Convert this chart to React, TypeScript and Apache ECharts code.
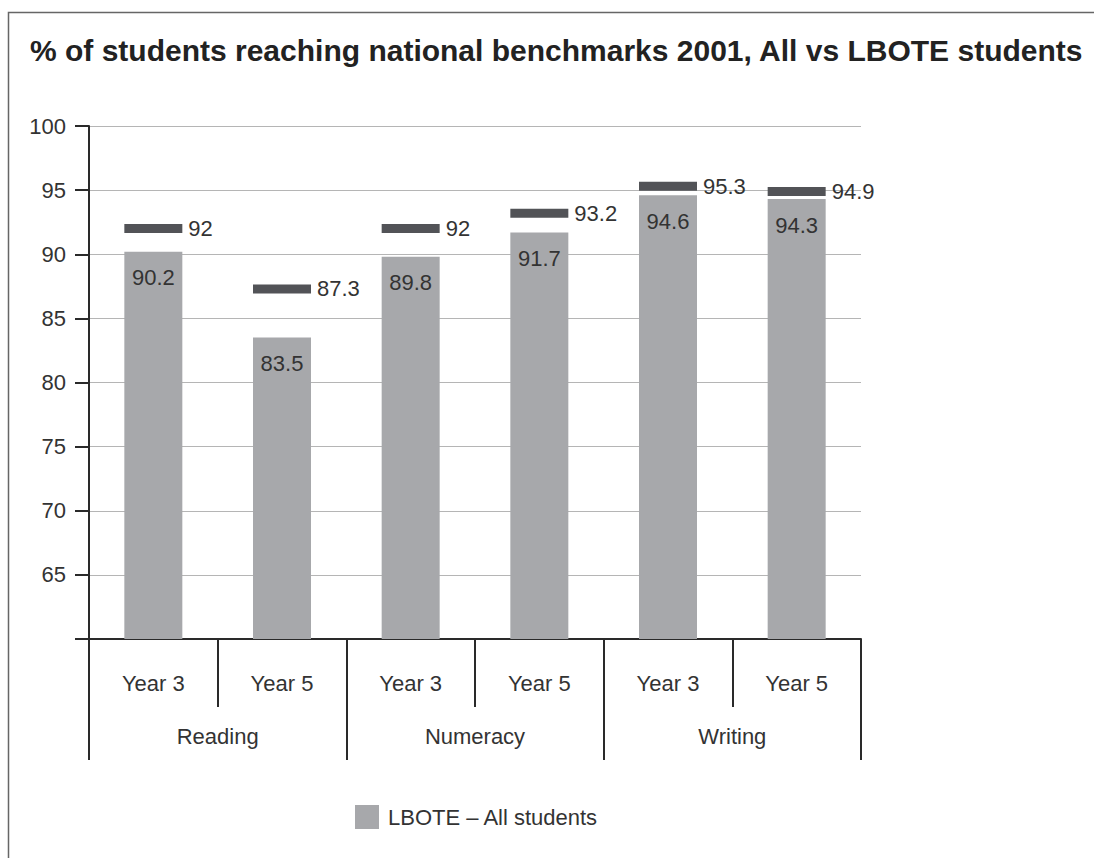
import React, { useEffect, useRef } from "react";
import * as echarts from "echarts";

const titleText = "% of students reaching national benchmarks 2001, All vs LBOTE students";
const years = ["Year 3", "Year 5", "Year 3", "Year 5", "Year 3", "Year 5"];
const subjects = ["Reading", "Numeracy", "Writing"];
const lboteValues = [90.2, 83.5, 89.8, 91.7, 94.6, 94.3];
const allValues = [92, 87.3, 92, 93.2, 95.3, 94.9];
const legendName = "LBOTE – All students";

const FONT = "'Liberation Sans', Arial, Helvetica, sans-serif";
const FS = 22;

export default function App() {
  const ref = useRef<HTMLDivElement>(null);
  useEffect(() => {
    if (!ref.current) return;
    const chart = echarts.init(ref.current, undefined, { renderer: "svg" });
    chart.setOption({
      animation: false,
      backgroundColor: "#ffffff",
      textStyle: { fontFamily: FONT },
      title: {
        text: titleText,
        left: 25,
        top: 30,
        textStyle: { fontFamily: FONT, fontSize: 30, fontWeight: "bold", color: "#222222" },
      },
      graphic: [
        {
          type: "rect",
          shape: { x: 8.5, y: 12.5, width: 1200, height: 1000 },
          style: { fill: "none", stroke: "#666666", lineWidth: 1.5 },
          silent: true,
        },
      ],
      legend: {
        data: [legendName],
        left: 350,
        top: 800,
        itemWidth: 24,
        itemHeight: 24,
        itemGap: 10,
        icon: "rect",
        textStyle: { fontFamily: FONT, fontSize: FS, color: "#333333", padding: [0, 0, 0, 4] },
      },
      grid: { left: 89, right: 233, top: 126, bottom: 219, containLabel: false },
      xAxis: [
        {
          type: "category",
          data: years,
          position: "bottom",
          axisLine: { show: true, lineStyle: { color: "#2a2a2a", width: 2 } },
          axisTick: { show: true, interval: 0, length: 68, lineStyle: { color: "#2a2a2a", width: 2 } },
          axisLabel: { interval: 0, margin: 33, fontSize: FS, color: "#333333", fontFamily: FONT },
        },
        {
          type: "category",
          data: subjects,
          position: "bottom",
          axisLine: { show: false },
          axisTick: { show: true, interval: 0, length: 121, lineStyle: { color: "#2a2a2a", width: 2 } },
          axisLabel: { interval: 0, margin: 86, fontSize: FS, color: "#333333", fontFamily: FONT },
        },
      ],
      yAxis: {
        type: "value",
        min: 60,
        max: 100,
        interval: 5,
        axisLine: { show: true, lineStyle: { color: "#2a2a2a", width: 2 } },
        axisTick: { show: true, length: 14, lineStyle: { color: "#2a2a2a", width: 2 } },
        axisLabel: {
          margin: 23,
          fontSize: FS,
          color: "#333333",
          fontFamily: FONT,
          formatter: (v: number) => (v === 60 ? "" : String(v)),
        },
        splitLine: { show: true, lineStyle: { color: "#b5b5b5", width: 1 } },
      },
      series: [
        {
          name: legendName,
          type: "bar",
          xAxisIndex: 0,
          data: lboteValues,
          barWidth: 58,
          itemStyle: { color: "#a7a8ab" },
          label: {
            show: true,
            position: "insideTop",
            distance: 15,
            fontSize: FS,
            color: "#333333",
            fontFamily: FONT,
          },
          z: 2,
        },
        {
          name: "All students",
          type: "scatter",
          xAxisIndex: 0,
          data: allValues,
          symbol: "rect",
          symbolSize: [58, 9],
          itemStyle: { color: "#525357", opacity: 1 },
          label: {
            show: true,
            position: "right",
            distance: 6,
            fontSize: FS,
            color: "#333333",
            fontFamily: FONT,
          },
          z: 3,
        },
      ],
    });
    return () => chart.dispose();
  }, []);
  return (
    <div
      ref={ref}
      style={{ position: "fixed", left: 0, top: 0, width: 1094, height: 858 }}
    />
  );
}
